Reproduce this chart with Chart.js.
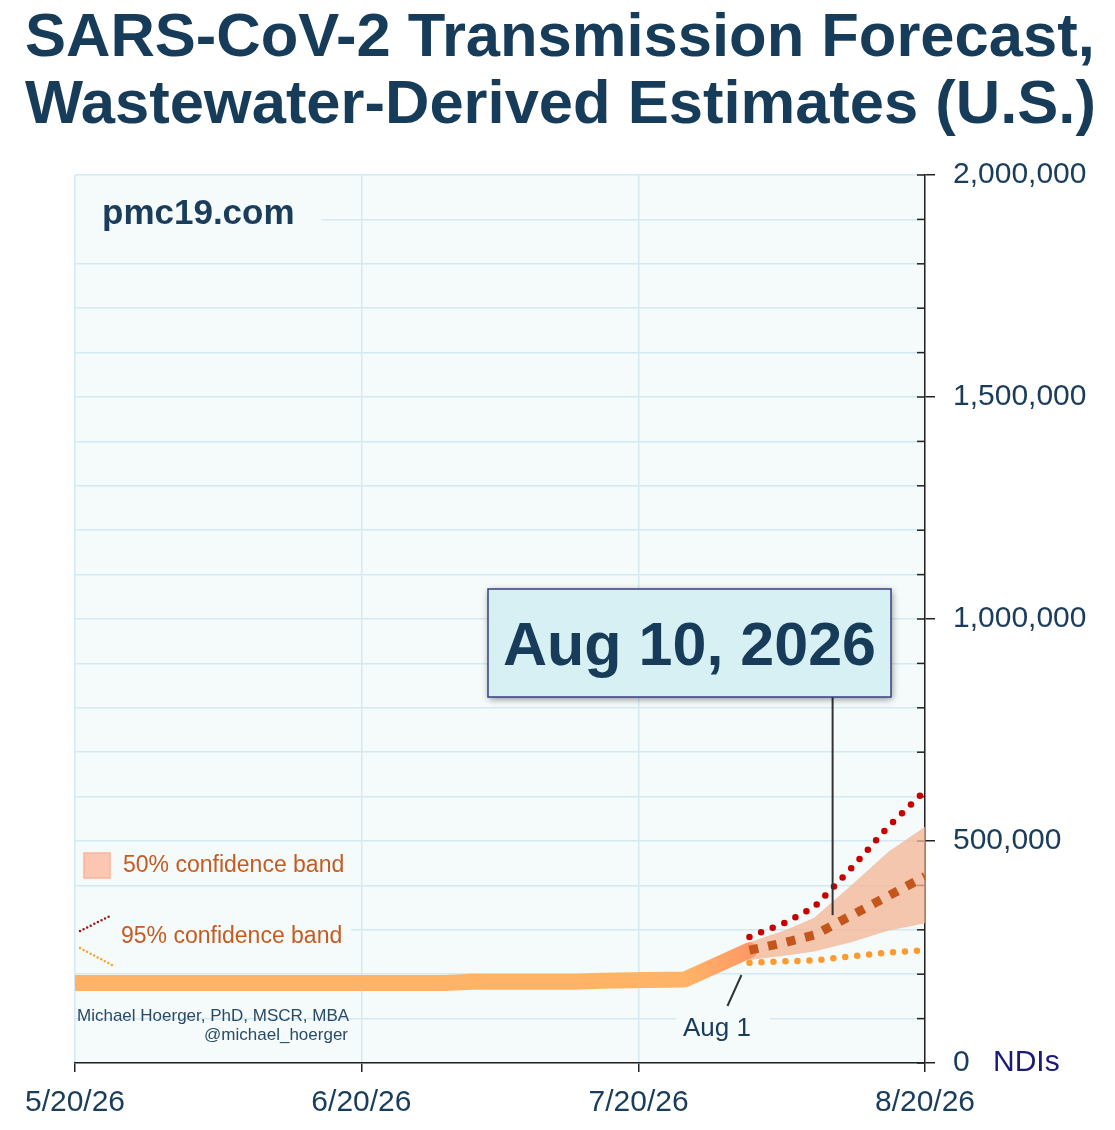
<!DOCTYPE html>
<html>
<head>
<meta charset="utf-8">
<script src="https://cdn.jsdelivr.net/npm/chart.js@4.4.1/dist/chart.umd.min.js"></script>
<style>
  html, body { margin: 0; padding: 0; background: #fff; }
  #wrap { width: 1115px; height: 1130px; position: relative; }
</style>
</head>
<body>
<div id="wrap"><canvas id="chart"></canvas></div>
<script>
// x values are days since 5/20/26
const tickDays = [0, 31, 61, 92];
const tickLabels = ['5/20/26', '6/20/26', '7/20/26', '8/20/26'];
const yLabelTicks = [0, 500000, 1000000, 1500000, 2000000];

// observed estimates (through Aug 1)
const actualDays = [0, 40, 43, 54, 57, 62, 66, 73];
const actualValues = [180000, 180000, 183000, 183000, 185000, 187000, 188000, 254000];

// forecast (Aug 1 -> Aug 20)
const forecastDays = [73, 77, 80, 84, 88, 92];
const median = [254000, 272000, 288000, 332000, 376000, 420000];
const band50Upper = [272000, 300000, 327000, 400000, 475000, 532000];
const band50Lower = [232000, 242000, 251000, 272000, 298000, 315000];
const band95Upper = [284000, 317000, 351000, 438000, 532000, 613000];
const band95Lower = [226000, 229000, 231000, 240000, 249000, 254000];

const FONT = '"Liberation Sans", Arial, sans-serif';
const NAVY = '#1a3d5c';
const PLOT_BG = '#f4fbfa';
const GRID = '#d3e9f3';

const pts = (xs, ys) => xs.map((x, i) => ({ x: x, y: ys[i] }));

const extras = {
  id: 'extras',
  beforeDraw(chart) {
    const { ctx, chartArea: a } = chart;
    ctx.save();
    ctx.fillStyle = PLOT_BG;
    ctx.fillRect(a.left, a.top, a.right - a.left, a.bottom - a.top);
    ctx.restore();
  },
  beforeDatasetsDraw(chart) {
    const { ctx, scales: { x, y } } = chart;
    ctx.save();
    // background boxes behind labels (hide grid)
    ctx.fillStyle = PLOT_BG;
    ctx.fillRect(x.left + 1, 192, 246, 50);
    ctx.fillRect(x.left + 1, 908, 275, 52);
    ctx.fillRect(676, 1004, 94, 50);
    // inner tick marks on right axis
    ctx.strokeStyle = '#222';
    ctx.lineWidth = 1.5;
    for (let v = 0; v <= 2000000; v += 100000) {
      const py = y.getPixelForValue(v);
      ctx.beginPath();
      ctx.moveTo(x.right - 8, py);
      ctx.lineTo(x.right, py);
      ctx.stroke();
    }
    // site label
    ctx.fillStyle = NAVY;
    ctx.font = 'bold 35px ' + FONT;
    ctx.textBaseline = 'middle';
    ctx.fillText('pmc19.com', 102, 214);
    // legend
    ctx.fillStyle = '#fcc6b3';
    ctx.strokeStyle = '#fbb49c';
    ctx.lineWidth = 1.5;
    ctx.fillRect(84, 853, 26, 25);
    ctx.strokeRect(84, 853, 26, 25);
    ctx.fillStyle = '#c65b22';
    ctx.font = '23px ' + FONT;
    ctx.fillText('50% confidence band', 123, 866);
    ctx.fillText('95% confidence band', 121, 937);
    ctx.lineCap = 'round';
    ctx.lineWidth = 2.5;
    ctx.setLineDash([0, 4]);
    ctx.strokeStyle = '#a01818';
    ctx.beginPath(); ctx.moveTo(80, 931); ctx.lineTo(112, 915); ctx.stroke();
    ctx.strokeStyle = '#ffa030';
    ctx.beginPath(); ctx.moveTo(80, 948); ctx.lineTo(112, 965); ctx.stroke();
    ctx.setLineDash([]);
    // credits
    ctx.fillStyle = '#2a4a66';
    ctx.font = '17px ' + FONT;
    ctx.fillText('Michael Hoerger, PhD, MSCR, MBA', 77, 1016);
    ctx.textAlign = 'right';
    ctx.fillText('@michael_hoerger', 348, 1035);
    ctx.restore();
  },
  afterDraw(chart) {
    const { ctx, scales: { x, y } } = chart;
    ctx.save();
    // title
    ctx.fillStyle = '#173c59';
    ctx.font = 'bold 61.5px ' + FONT;
    ctx.textBaseline = 'alphabetic';
    ctx.fillText('SARS-CoV-2 Transmission Forecast,', 25, 56);
    ctx.fillText('Wastewater-Derived Estimates (U.S.)', 25, 123);
    // NDIs unit label
    ctx.fillStyle = '#1a1a78';
    ctx.font = '30px ' + FONT;
    ctx.textBaseline = 'middle';
    ctx.fillText('NDIs', 993, y.getPixelForValue(0));
    // Aug 1 marker
    const x1 = x.getPixelForValue(73);
    ctx.strokeStyle = '#333';
    ctx.lineWidth = 2;
    ctx.beginPath();
    ctx.moveTo(x1 - 8, 975);
    ctx.lineTo(x1 - 22, 1006);
    ctx.stroke();
    ctx.fillStyle = NAVY;
    ctx.font = '26px ' + FONT;
    ctx.fillText('Aug 1', 683, 1029);
    // Aug 10 leader + box
    const x10 = x.getPixelForValue(82);
    ctx.beginPath();
    ctx.moveTo(x10, 697);
    ctx.lineTo(x10, y.getPixelForValue(333000));
    ctx.stroke();
    ctx.save();
    ctx.shadowColor = 'rgba(0,0,0,0.45)';
    ctx.shadowBlur = 7;
    ctx.shadowOffsetX = 1;
    ctx.shadowOffsetY = 2;
    ctx.fillStyle = '#d7f0f4';
    ctx.fillRect(488, 589, 403, 108);
    ctx.restore();
    ctx.strokeStyle = '#3b3f80';
    ctx.lineWidth = 1.5;
    ctx.strokeRect(488, 589, 403, 108);
    ctx.fillStyle = '#173c59';
    ctx.font = 'bold 61px ' + FONT;
    ctx.textAlign = 'center';
    ctx.textBaseline = 'alphabetic';
    ctx.fillText('Aug 10, 2026', 689.5, 665);
    ctx.restore();
  }
};

const ctx = document.getElementById('chart').getContext('2d');
new Chart(ctx, {
  type: 'line',
  data: {
    datasets: [
      {
        label: 'median',
        data: pts(forecastDays, median),
        borderColor: '#c4561c',
        borderWidth: 9,
        borderDash: [9, 10],
        borderCapStyle: 'butt',
        pointRadius: 0,
        fill: false,
        order: 1
      },
      {
        label: 'observed',
        data: pts(actualDays, actualValues),
        borderColor: function (c) {
          const ch = c.chart;
          if (!ch.chartArea || !ch.scales.x) return '#ffb366';
          const sx = ch.scales.x;
          const g = ch.ctx.createLinearGradient(sx.getPixelForValue(66), 0, sx.getPixelForValue(73), 0);
          g.addColorStop(0, '#ffb366');
          g.addColorStop(1, '#ff9966');
          return g;
        },
        borderWidth: 16,
        borderCapStyle: 'round',
        borderJoinStyle: 'round',
        pointRadius: 0,
        fill: false,
        order: 2
      },
      {
        label: '95 upper',
        data: pts(forecastDays, band95Upper),
        borderColor: '#c80000',
        borderWidth: 6.5,
        borderDash: [0, 12.5],
        borderCapStyle: 'round',
        pointRadius: 0,
        fill: false,
        order: 3
      },
      {
        label: '95 lower',
        data: pts(forecastDays, band95Lower),
        borderColor: '#ff9a2e',
        borderWidth: 6.5,
        borderDash: [0, 12],
        borderCapStyle: 'round',
        pointRadius: 0,
        fill: false,
        order: 4
      },
      {
        label: '50 lower',
        data: pts(forecastDays, band50Lower),
        borderWidth: 0,
        borderColor: 'rgba(0,0,0,0)',
        pointRadius: 0,
        fill: false,
        order: 6
      },
      {
        label: '50 upper',
        data: pts(forecastDays, band50Upper),
        borderWidth: 0,
        borderColor: 'rgba(0,0,0,0)',
        backgroundColor: 'rgba(245,180,148,0.75)',
        pointRadius: 0,
        fill: '-1',
        order: 5
      }
    ]
  },
  options: {
    responsive: true,
    maintainAspectRatio: false,
    animation: false,
    events: [],
    layout: { padding: { left: 75, top: 175, right: 0, bottom: 0 } },
    plugins: {
      legend: { display: false },
      tooltip: { enabled: false },
      title: { display: false }
    },
    scales: {
      x: {
        type: 'linear',
        min: 0,
        max: 92,
        afterBuildTicks: s => { s.ticks = tickDays.map(v => ({ value: v })); },
        afterFit: s => { s.height = 67; },
        ticks: {
          autoSkip: false,
          maxRotation: 0,
          padding: 13,
          color: NAVY,
          font: { family: FONT, size: 30 },
          callback: v => tickLabels[tickDays.indexOf(v)]
        },
        grid: {
          color: GRID,
          lineWidth: 1.5,
          tickColor: '#222',
          tickLength: 9
        },
        border: { display: true, color: '#222', width: 1.5 }
      },
      y: {
        type: 'linear',
        position: 'right',
        min: 0,
        max: 2000000,
        afterFit: s => { s.width = 190; },
        ticks: {
          stepSize: 100000,
          autoSkip: false,
          padding: 18,
          color: NAVY,
          font: { family: FONT, size: 30 },
          callback: v => yLabelTicks.includes(v) ? v.toLocaleString('en-US') : ''
        },
        grid: {
          color: GRID,
          lineWidth: 1.5,
          tickLength: 10,
          tickColor: c => (c.tick && yLabelTicks.includes(c.tick.value)) ? '#222' : 'rgba(0,0,0,0)'
        },
        border: { display: true, color: '#222', width: 1.5 }
      }
    }
  },
  plugins: [extras]
});
</script>
</body>
</html>
